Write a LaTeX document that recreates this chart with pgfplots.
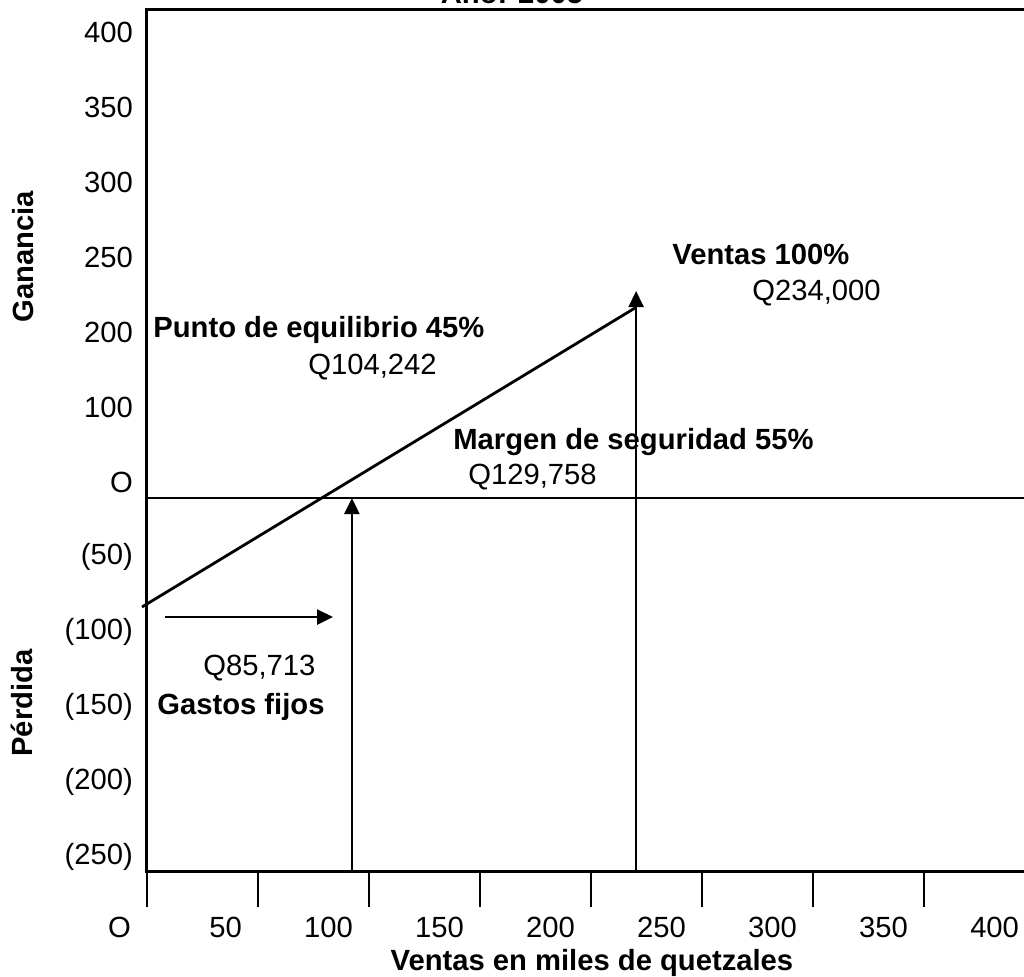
\documentclass[border=0pt]{standalone}
\usepackage{fontspec}
\setmainfont{Liberation Sans}
\usepackage{pgfplots}
\pgfplotsset{compat=1.18}
\usetikzlibrary{arrows.meta}

\begin{document}
\fontsize{14.6}{17}\selectfont
\begin{tikzpicture}
\begin{axis}[
    x=1.11pt, y=0.75pt,
    xmin=0, xmax=400,
    ymin=-259.3, ymax=314.7,
    clip=false,
    axis line style={line width=1.5pt},
    xtick={0,50,...,400},
    xticklabels={O,50,100,150,200,250,300,350,400},
    xtick pos=lower,
    tick align=outside,
    major tick length=18pt,
    xtick style={line width=1.4pt, black},
    xticklabel style={anchor=north east, xshift=-3pt},
    ytick={-250,-200,...,300},
    yticklabels={(250),(200),(150),(100),(50),O,100,200,250,300,350,400},
    ytick style={draw=none},
    yticklabel style={anchor=east, xshift=16pt},
    /pgf/number format/assume math mode=true,
    xlabel={Ventas en miles de quetzales},
    xlabel style={at={(rel axis cs:0.501,-0.107)}, anchor=center, font=\bfseries},
]
% linea de ganancia / perdida
\addplot[black, line width=1.4pt] coordinates {(-2.25,-83.3) (219.8,116)};
% linea cero
\addplot[black, line width=1.1pt] coordinates {(0,-10.7) (400,-10.7)};
% flechas
\addplot[black, line width=1.2pt, -{Triangle[length=8pt,width=7.5pt]}] coordinates {(92.3,-259.3) (92.3,-10.7)};
\addplot[black, line width=1.2pt, -{Triangle[length=8pt,width=7.5pt]}] coordinates {(220.3,-259.3) (220.3,127.3)};
\addplot[black, line width=1.2pt, -{Triangle[length=8pt,width=7.5pt]}] coordinates {(8.1,-90) (83.8,-90)};

\begin{scope}[every node/.style={inner sep=0pt, anchor=west}]
\node[font=\bfseries] at (axis cs:236.5,152) {Ventas 100\%};
\node at (axis cs:272.5,126) {Q234,000};
\node[font=\bfseries] at (axis cs:2.7,101.3) {Punto de equilibrio 45\%};
\node at (axis cs:72.5,76.7) {Q104,242};
\node[font=\bfseries] at (axis cs:137.8,26.7) {Margen de seguridad 55\%};
\node at (axis cs:144.6,3.3) {Q129,758};
\node at (axis cs:25.2,-124) {Q85,713};
\node[font=\bfseries] at (axis cs:4.5,-150) {Gastos fijos};
\end{scope}
\node[rotate=90, font=\bfseries] at (axis cs:-55.9,150) {Ganancia};
\node[rotate=90, font=\bfseries] at (axis cs:-56.3,-147.3) {Pérdida};
\node[anchor=base, font=\bfseries] at (axis cs:164.4,318.7) {Año: 2005};

\coordinate (bl) at (axis cs:-66.2,-329.3);
\coordinate (tr) at (axis cs:395,321.3);
\end{axis}
\pgfresetboundingbox
\useasboundingbox (bl) rectangle (tr);
\end{tikzpicture}
\end{document}
